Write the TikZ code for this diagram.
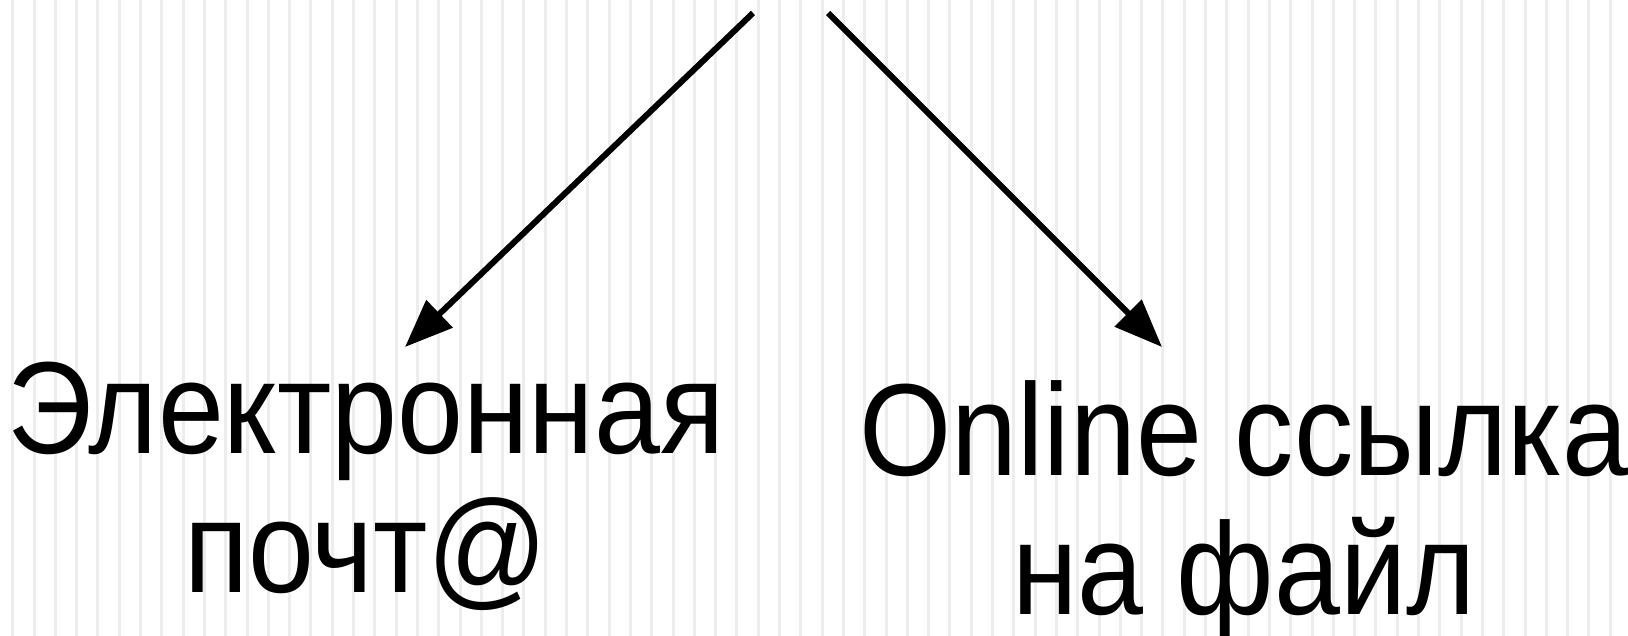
\documentclass[tikz,border=0pt]{standalone}
\usepackage{fontspec}
\setmainfont{Liberation Sans}
\newfontfamily\labelfont[FakeStretch=0.905]{Liberation Sans}
\usetikzlibrary{arrows.meta}
\tikzset{arr/.style = {line width = 3pt, -{Triangle[length=24pt, width=18.5pt]}}}
\tikzset{stripe/.style = {line width = 1.5pt, black!7}}
\tikzset{label/.style = {align = center, inner sep = 0, anchor = base, font = \labelfont\fontsize{65.5}{69.5}\selectfont}}

\begin{document}
\begin{tikzpicture}[x = 0.5pt, y = -0.5pt]
	\useasboundingbox (0,0) rectangle (1628,636);
	\foreach \i in {0,...,76}
		\draw [stripe] (12.7+21.3*\i,0) -- (12.7+21.3*\i,636);
	\node [label] (mail) at (366,592) {Электронная\\почт@};
	\node [label] (link) at (1244,614) {Online ссылка\\на файл};
	\coordinate (srcL) at (753,13);
	\coordinate (srcR) at (828,13);
	\coordinate (tipL) at (405,347);
	\coordinate (tipR) at (1162,347);
	\draw [arr] (srcL) -- (tipL);
	\draw [arr] (srcR) -- (tipR);
\end{tikzpicture}
\end{document}
